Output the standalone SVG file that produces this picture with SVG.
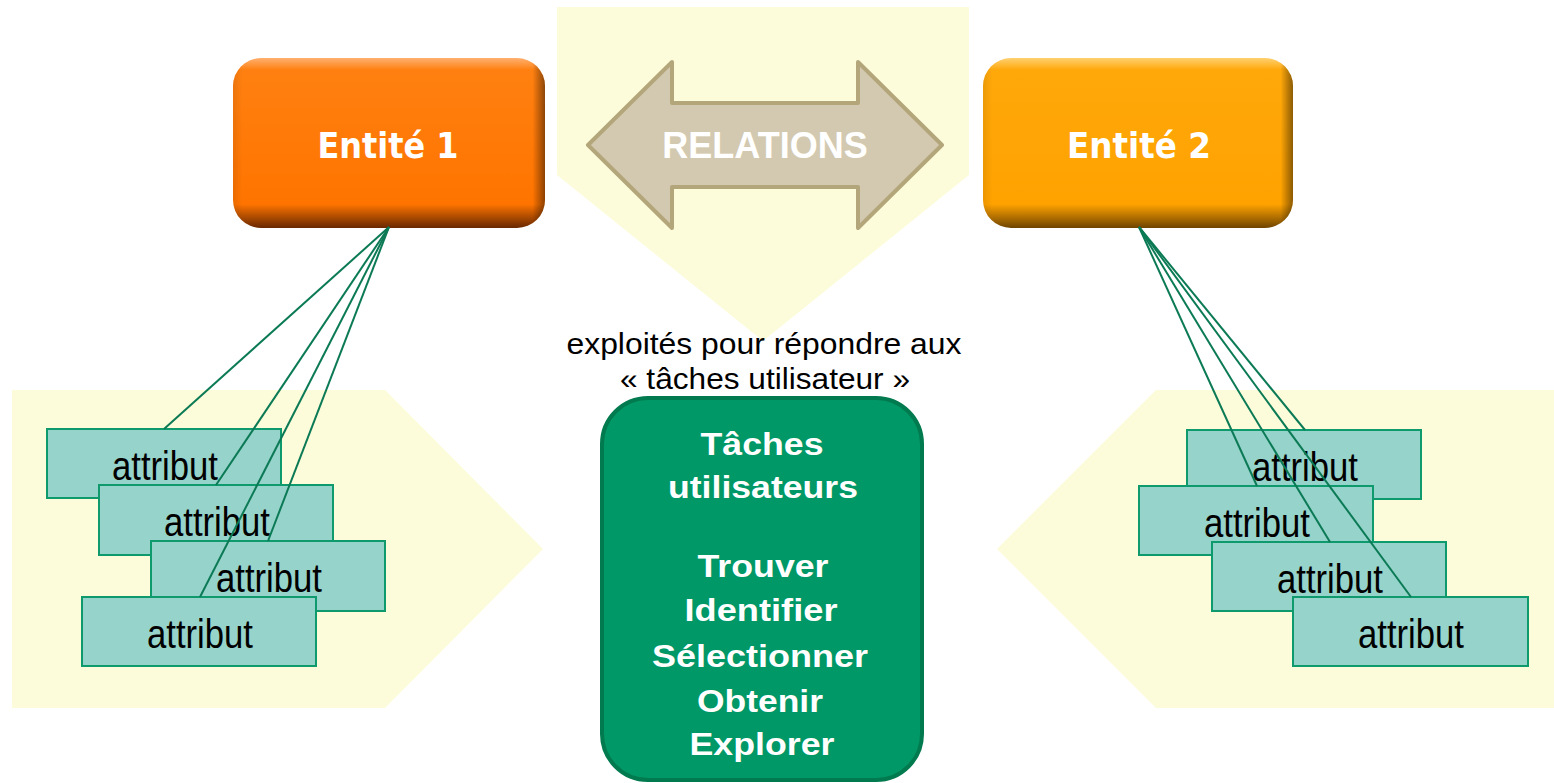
<svg xmlns="http://www.w3.org/2000/svg" width="1554" height="783" viewBox="0 0 1554 783">
<defs>
<linearGradient id="g1" x1="0" y1="0" x2="0" y2="1">
<stop offset="0" stop-color="#FFB070"/>
<stop offset="0.07" stop-color="#FF8010"/>
<stop offset="0.86" stop-color="#FF7400"/>
<stop offset="0.93" stop-color="#B24E00"/>
<stop offset="1" stop-color="#6A2800"/>
</linearGradient>
<linearGradient id="g2" x1="0" y1="0" x2="0" y2="1">
<stop offset="0" stop-color="#FFD070"/>
<stop offset="0.07" stop-color="#FFA80A"/>
<stop offset="0.86" stop-color="#FFA200"/>
<stop offset="0.93" stop-color="#B87400"/>
<stop offset="1" stop-color="#6E4400"/>
</linearGradient>
<linearGradient id="edge" x1="0" y1="0" x2="1" y2="0">
<stop offset="0" stop-color="#000" stop-opacity="0.08"/>
<stop offset="0.03" stop-color="#000" stop-opacity="0"/>
<stop offset="0.96" stop-color="#000" stop-opacity="0"/>
<stop offset="1" stop-color="#000" stop-opacity="0.45"/>
</linearGradient>
<style>
.bg{fill:#FCFCDA;stroke:none}
.attr rect{fill:#96D3CB;stroke:#0F9A6E;stroke-width:2}
.attr text{font-family:"Liberation Sans",Arial,sans-serif;font-size:40px;fill:#000;text-anchor:middle}
.ent text{font-family:"DejaVu Sans",sans-serif;font-weight:bold;font-size:35px;fill:#fff;text-anchor:middle}
.conn line{stroke:#0B7A55;stroke-width:2}
.cap{font-family:"Liberation Sans",Arial,sans-serif;font-size:29px;fill:#000;text-anchor:middle}
.task text{font-family:"Liberation Sans",Arial,sans-serif;font-weight:bold;font-size:32px;text-anchor:middle;fill:#fff}
</style>
</defs>

<g id="backgrounds">
<polygon class="bg" points="557,7 969,7 969,175 763,341 557,175"/>
<polygon class="bg" points="12,390 385,390 543,549 385,708 12,708"/>
<polygon class="bg" points="1554,390 1156,390 997,549 1156,708 1554,708"/>
</g>

<g id="relations">
<polygon points="588,145 672,62 672,103 858,103 858,62 942,145 858,228 858,187 672,187 672,228" fill="#D3C9B0" stroke="#B4A67B" stroke-width="4" stroke-linejoin="round"/>
<text x="765" y="158" font-family="Liberation Sans, Arial, sans-serif" font-weight="bold" font-size="36" fill="#fff" text-anchor="middle">RELATIONS</text>
</g>

<g id="entite1" class="ent">
<rect x="233" y="58" width="312" height="170" rx="28" fill="url(#g1)"/>
<rect x="233" y="58" width="312" height="170" rx="28" fill="url(#edge)"/>
<text x="388" y="158" textLength="141" lengthAdjust="spacingAndGlyphs">Entité 1</text>
</g>

<g id="entite2" class="ent">
<rect x="983" y="58" width="310" height="170" rx="28" fill="url(#g2)"/>
<rect x="983" y="58" width="310" height="170" rx="28" fill="url(#edge)"/>
<text x="1139" y="158" textLength="144" lengthAdjust="spacingAndGlyphs">Entité 2</text>
</g>

<g id="attributs-gauche" class="attr">
<g id="attr-g1"><rect x="47" y="429" width="234" height="69"/><text x="165" y="480" textLength="106" lengthAdjust="spacingAndGlyphs">attribut</text></g>
<g id="attr-g2"><rect x="99" y="485" width="234" height="70"/><text x="217" y="536" textLength="106" lengthAdjust="spacingAndGlyphs">attribut</text></g>
<g id="attr-g3"><rect x="151" y="541" width="234" height="70"/><text x="269" y="592" textLength="106" lengthAdjust="spacingAndGlyphs">attribut</text></g>
<g id="attr-g4"><rect x="82" y="597" width="234" height="69"/><text x="200" y="648" textLength="106" lengthAdjust="spacingAndGlyphs">attribut</text></g>
</g>

<g id="attributs-droite" class="attr">
<g id="attr-d1"><rect x="1187" y="430" width="234" height="69"/><text x="1305" y="481" textLength="106" lengthAdjust="spacingAndGlyphs">attribut</text></g>
<g id="attr-d2"><rect x="1139" y="486" width="234" height="69"/><text x="1257" y="537" textLength="106" lengthAdjust="spacingAndGlyphs">attribut</text></g>
<g id="attr-d3"><rect x="1212" y="542" width="234" height="69"/><text x="1330" y="593" textLength="106" lengthAdjust="spacingAndGlyphs">attribut</text></g>
<g id="attr-d4"><rect x="1293" y="597" width="235" height="69"/><text x="1411" y="648" textLength="106" lengthAdjust="spacingAndGlyphs">attribut</text></g>
</g>

<g id="connectors" class="conn">
<line x1="389" y1="227" x2="164" y2="429"/>
<line x1="389" y1="227" x2="216" y2="485"/>
<line x1="389" y1="227" x2="268" y2="541"/>
<line x1="389" y1="227" x2="200" y2="597"/>
<line x1="1139" y1="227" x2="1305" y2="430"/>
<line x1="1139" y1="227" x2="1257" y2="486"/>
<line x1="1139" y1="227" x2="1330" y2="542"/>
<line x1="1139" y1="227" x2="1411" y2="597"/>
</g>

<g id="caption">
<text class="cap" x="764" y="354" textLength="395" lengthAdjust="spacingAndGlyphs">exploités pour répondre aux</text>
<text class="cap" x="765" y="389" textLength="290" lengthAdjust="spacingAndGlyphs">« tâches utilisateur »</text>
</g>

<g id="taches" class="task">
<rect x="602" y="398" width="320" height="382" rx="46" fill="#009866" stroke="#007A4E" stroke-width="4"/>
<text x="762" y="455" fill="#A6F2D4" textLength="123" lengthAdjust="spacingAndGlyphs">Tâches</text>
<text x="763" y="498" fill="#A6F2D4" textLength="190" lengthAdjust="spacingAndGlyphs">utilisateurs</text>
<text x="763" y="577" textLength="131" lengthAdjust="spacingAndGlyphs">Trouver</text>
<text x="761" y="621" textLength="153" lengthAdjust="spacingAndGlyphs">Identifier</text>
<text x="760" y="667" textLength="216" lengthAdjust="spacingAndGlyphs">Sélectionner</text>
<text x="760" y="712" textLength="126" lengthAdjust="spacingAndGlyphs">Obtenir</text>
<text x="762" y="755" textLength="145" lengthAdjust="spacingAndGlyphs">Explorer</text>
</g>
</svg>
